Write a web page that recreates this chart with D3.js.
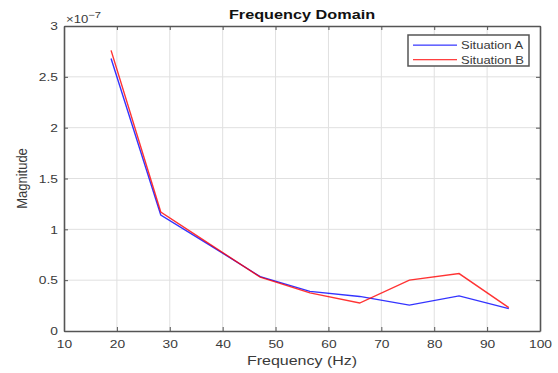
<!DOCTYPE html>
<html>
<head>
<meta charset="utf-8">
<script src="https://cdn.jsdelivr.net/npm/d3@7"></script>
<style>
  body { margin: 0; background: #fff; }
  svg text { font-family: "Liberation Sans", Arial, sans-serif; }
</style>
</head>
<body>
<script>
const w = 558;
const h = 373;

// frequency (Hz) and magnitude (x 1e-7)
const freq = [18.9, 28.3, 37.7, 47.1, 56.5, 65.9, 75.3, 84.7, 94.1];
const situationA = [2.68, 1.14, 0.84, 0.535, 0.39, 0.34, 0.255, 0.345, 0.22];
const situationB = [2.76, 1.17, 0.85, 0.53, 0.375, 0.275, 0.50, 0.565, 0.23];
const seriesNames = ["Situation A", "Situation B"];
const seriesColors = ["#0000ff", "#ff0000"];
const xTicks = [10, 20, 30, 40, 50, 60, 70, 80, 90, 100];
const yTicks = [0, 0.5, 1, 1.5, 2, 2.5, 3];

const margin = { left: 64, right: 18, top: 26, bottom: 42 };
const axisColor = "#555";
const textColor = "#3a3a3a";
const sx = 1.2; // the picture is a bit stretched sideways

const svg = d3.select("body").append("svg").attr("width", w).attr("height", h);

const x = d3.scaleLinear().domain([10, 100]).range([margin.left, w - margin.right]);
const y = d3.scaleLinear().domain([0, 3]).range([h - margin.bottom, margin.top]);

// grid
svg.append("g")
  .selectAll("line")
  .data(xTicks.slice(1, -1))
  .enter()
  .append("line")
  .attr("x1", (d) => x(d)).attr("x2", (d) => x(d))
  .attr("y1", y(0)).attr("y2", y(3))
  .attr("stroke", "#e0e0e0");
svg.append("g")
  .selectAll("line")
  .data(yTicks.slice(1, -1))
  .enter()
  .append("line")
  .attr("x1", x(10)).attr("x2", x(100))
  .attr("y1", (d) => y(d)).attr("y2", (d) => y(d))
  .attr("stroke", "#e0e0e0");

// lines
const line = d3.line().x((d) => x(d[0])).y((d) => y(d[1]));
[situationA, situationB].forEach((vals, i) => {
  svg.append("path")
    .datum(freq.map((f, j) => [f, vals[j]]))
    .attr("fill", "none")
    .attr("stroke", seriesColors[i])
    .attr("stroke-width", 1.4)
    .attr("stroke-opacity", 0.8)
    .attr("d", line);
});

// axes
function styleAxis(g) {
  g.select(".domain").attr("stroke", axisColor).attr("stroke-width", 1.6);
  g.selectAll(".tick line").attr("stroke", axisColor);
  g.selectAll(".tick text").attr("fill", textColor).style("font-size", "11.5px");
}
svg.append("g")
  .attr("transform", "translate(0," + y(0) + ")")
  .call(d3.axisBottom(x).tickValues(xTicks).tickSizeInner(-4).tickSizeOuter(0).tickPadding(9))
  .call(styleAxis)
  .selectAll(".tick text").attr("transform", "scale(" + sx + ",1)");
svg.append("g")
  .attr("transform", "translate(" + x(10) + ",0)")
  .call(d3.axisLeft(y).tickValues(yTicks).tickFormat((d) => d).tickSizeInner(-4).tickSizeOuter(0))
  .call(styleAxis)
  .selectAll(".tick text")
  .attr("x", -6 / sx)
  .attr("transform", "scale(" + sx + ",1)");
svg.append("g")
  .attr("transform", "translate(0," + y(3) + ")")
  .call(d3.axisTop(x).tickValues(xTicks).tickFormat("").tickSizeInner(-4).tickSizeOuter(0))
  .call(styleAxis);
svg.append("g")
  .attr("transform", "translate(" + x(100) + ",0)")
  .call(d3.axisRight(y).tickValues(yTicks).tickFormat("").tickSizeInner(-4).tickSizeOuter(0))
  .call(styleAxis);

// exponent
const expo = svg.append("text")
  .attr("transform", "translate(" + (x(10) + 2) + "," + (y(3) - 3) + ") scale(1.25,1)")
  .attr("fill", textColor).style("font-size", "10.5px");
expo.append("tspan").text("\u00d710");
expo.append("tspan").attr("dy", -5).style("font-size", "9px").text("\u22127");

// title and labels
svg.append("text")
  .attr("transform", "translate(" + (x(10) + x(100)) / 2 + ",19) scale(1.3,1)")
  .attr("text-anchor", "middle").attr("font-weight", "bold")
  .attr("fill", "#111").style("font-size", "12.5px")
  .text("Frequency Domain");
svg.append("text")
  .attr("transform", "translate(" + (x(10) + x(100)) / 2 + "," + (h - 8) + ") scale(1.23,1)")
  .attr("text-anchor", "middle").attr("fill", textColor).style("font-size", "13px")
  .text("Frequency (Hz)");
svg.append("text")
  .attr("transform", "translate(27," + (y(0) + y(3)) / 2 + ") scale(1.1,1) rotate(-90)")
  .attr("text-anchor", "middle").attr("fill", textColor).style("font-size", "13px")
  .text("Magnitude");

// legend
const lg = svg.append("g").attr("transform", "translate(408,35)");
lg.append("rect")
  .attr("width", 121).attr("height", 31)
  .attr("fill", "#fff").attr("stroke", axisColor).attr("stroke-width", 1.5);
seriesNames.forEach((name, i) => {
  lg.append("rect")
    .attr("x", 5).attr("width", 44)
    .attr("y", 9.5 + i * 14.5).attr("height", 1.3)
    .attr("fill", seriesColors[i]).attr("fill-opacity", 0.75);
  lg.append("text")
    .attr("transform", "translate(53," + (14 + i * 14.5) + ") scale(1.13,1)")
    .attr("fill", textColor).style("font-size", "11.5px")
    .text(name);
});
</script>
</body>
</html>
